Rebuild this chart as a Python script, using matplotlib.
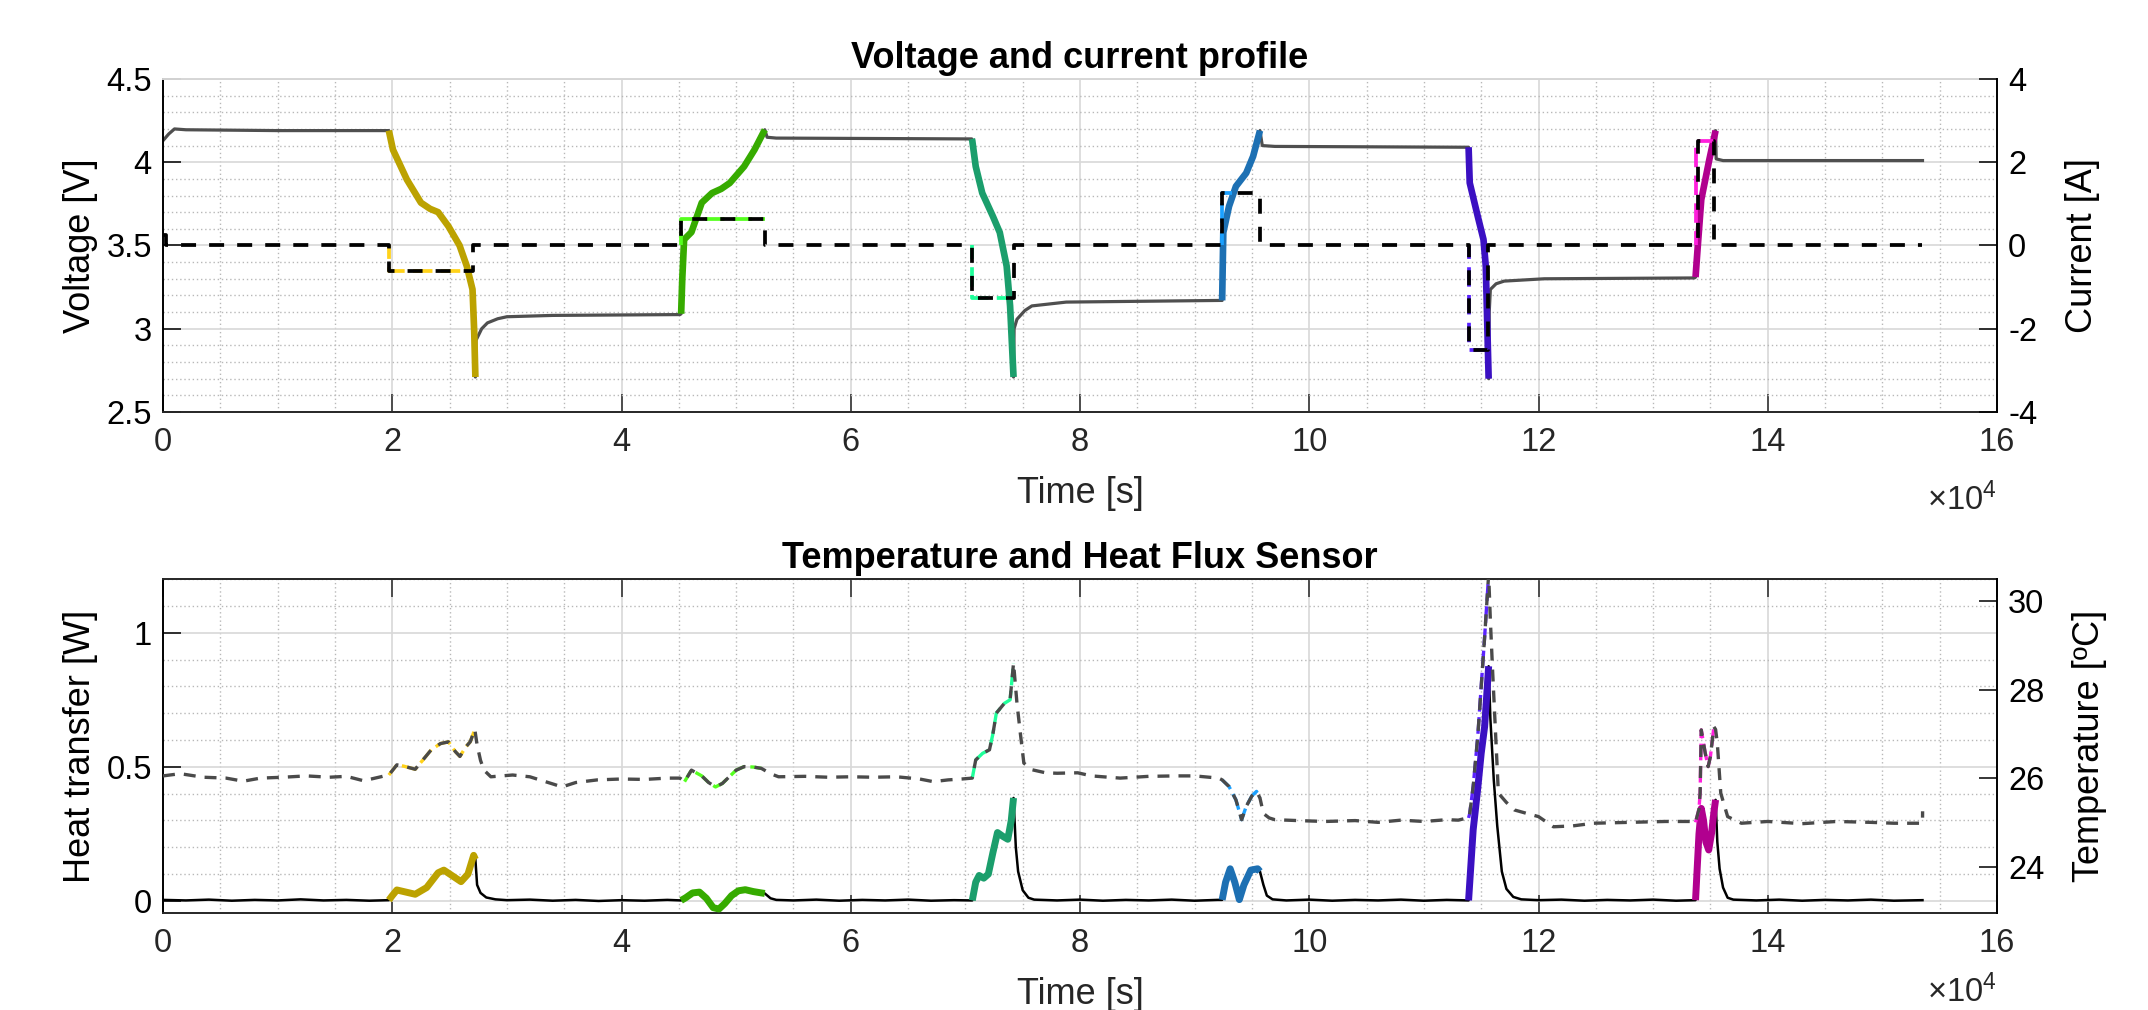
import matplotlib
matplotlib.use('Agg')
import matplotlib.pyplot as plt
import numpy as np
from matplotlib.ticker import MultipleLocator, FuncFormatter

plt.rcParams['font.family'] = ['Liberation Sans', 'DejaVu Sans']
plt.rcParams['mathtext.fontset'] = 'custom'
plt.rcParams['mathtext.rm'] = 'Liberation Sans'
plt.rcParams['mathtext.default'] = 'regular'
plt.rcParams['axes.unicode_minus'] = False
plt.rcParams['lines.scale_dashes'] = False

# --- data, time in units of 1e4 s ---
# cell voltage [V]
volt_t = [0, 0.05, 0.1, 0.2, 1.0, 1.97,
          2.006, 2.128, 2.25, 2.33, 2.40, 2.49, 2.587, 2.65, 2.70, 2.715, 2.725,
          2.73, 2.78, 2.83, 2.92, 3.0, 3.4, 4.51,
          4.52, 4.53, 4.546, 4.61, 4.70, 4.79, 4.87, 4.944, 5.07, 5.16, 5.25,
          5.27, 5.35, 7.056,
          7.06, 7.09, 7.147, 7.24, 7.30, 7.36, 7.39, 7.42,
          7.425, 7.45, 7.52, 7.58, 7.88, 9.23,
          9.24, 9.25, 9.30, 9.36, 9.45, 9.51, 9.57,
          9.59, 9.7, 11.385,
          11.39, 11.40, 11.47, 11.52, 11.54, 11.565,
          11.57, 11.58, 11.63, 11.70, 12.05, 13.36,
          13.37, 13.39, 13.42, 13.49, 13.545,
          13.55, 13.61, 15.35]
volt_v = [4.13, 4.17, 4.20, 4.195, 4.19, 4.19,
          4.075, 3.895, 3.757, 3.72, 3.70, 3.615, 3.50, 3.376, 3.236, 2.98, 2.71,
          2.93, 3.0, 3.035, 3.06, 3.072, 3.08, 3.085,
          3.09, 3.3, 3.536, 3.58, 3.757, 3.815, 3.84, 3.875, 3.975, 4.075, 4.195,
          4.15, 4.145, 4.14,
          4.13, 3.975, 3.815, 3.675, 3.578, 3.376, 3.137, 2.71,
          3.0, 3.057, 3.11, 3.137, 3.16, 3.17,
          3.17, 3.578, 3.735, 3.855, 3.935, 4.035, 4.19,
          4.10, 4.095, 4.09,
          4.09, 3.876, 3.675, 3.536, 3.376, 2.70,
          3.1, 3.236, 3.27, 3.286, 3.30, 3.305,
          3.31, 3.50, 3.775, 4.015, 4.19,
          4.02, 4.01, 4.01]

# applied current [A] (step profile)
cur_t = [0, 0.03, 1.97, 2.70, 4.52, 5.25, 7.056, 7.42, 9.24, 9.57, 11.39, 11.56, 13.39, 13.53, 15.35]
cur_a = [0.25, 0, -0.625, 0, 0.625, 0, -1.25, 0, 1.25, 0, -2.5, 0, 2.5, 0, 0]

# heat flux sensor [W]
heat_t = [0.0, 0.2, 0.4, 0.6, 0.8, 1.0, 1.2, 1.4, 1.6, 1.8, 1.95,
          1.97, 2.0, 2.04, 2.1, 2.2, 2.3, 2.4, 2.45, 2.52, 2.6, 2.66, 2.71, 2.725,
          2.74, 2.77, 2.82, 2.9, 3.0, 3.2, 3.4, 3.6, 3.8, 4.0, 4.2, 4.4, 4.51,
          4.52, 4.56, 4.62, 4.68, 4.74, 4.8, 4.85, 4.9, 4.96, 5.02, 5.08, 5.15, 5.22, 5.25,
          5.3, 5.35, 5.5, 5.7, 5.9, 6.1, 6.3, 6.5, 6.7, 6.9, 7.05,
          7.06, 7.09, 7.12, 7.16, 7.2, 7.24, 7.28, 7.33, 7.37, 7.40, 7.42,
          7.44, 7.46, 7.5, 7.55, 7.6, 7.8, 8.0, 8.2, 8.4, 8.6, 8.8, 9.0, 9.2,
          9.24, 9.27, 9.31, 9.35, 9.39, 9.43, 9.49, 9.55, 9.57,
          9.6, 9.63, 9.68, 9.8, 10.0, 10.2, 10.4, 10.6, 10.8, 11.0, 11.2, 11.38,
          11.39, 11.43, 11.47, 11.50, 11.53, 11.565,
          11.58, 11.61, 11.64, 11.68, 11.72, 11.78, 11.85, 12.0, 12.2, 12.4, 12.6, 12.8, 13.0, 13.2, 13.36,
          13.37, 13.40, 13.42, 13.44, 13.46, 13.485, 13.51, 13.53, 13.545,
          13.56, 13.58, 13.61, 13.65, 13.7, 13.9, 14.1, 14.3, 14.5, 14.7, 14.9, 15.1, 15.35]
heat_w = [0.004, 0.002, 0.005, 0.001, 0.004, 0.002, 0.006, 0.002, 0.004, 0.001, 0.003,
          0.003, 0.02, 0.041, 0.035, 0.025, 0.05, 0.105, 0.115, 0.095, 0.072, 0.10, 0.17, 0.155,
          0.06, 0.03, 0.013, 0.006, 0.003, 0.005, 0.001, 0.004, 0.000, 0.003, 0.001, 0.004, 0.002,
          0.002, 0.012, 0.03, 0.033, 0.01, -0.025, -0.03, -0.01, 0.02, 0.038, 0.042, 0.035, 0.03, 0.028,
          0.01, 0.004, 0.002, 0.005, 0.001, 0.004, 0.002, 0.005, 0.001, 0.003, 0.002,
          0.002, 0.07, 0.095, 0.085, 0.10, 0.18, 0.255, 0.24, 0.23, 0.30, 0.384,
          0.20, 0.11, 0.04, 0.012, 0.005, 0.002, 0.005, 0.001, 0.004, 0.002, 0.005, 0.001, 0.004,
          0.004, 0.07, 0.12, 0.07, 0.005, 0.06, 0.115, 0.12, 0.11,
          0.06, 0.02, 0.006, 0.002, 0.005, 0.001, 0.004, 0.002, 0.005, 0.001, 0.004, 0.002,
          0.002, 0.265, 0.42, 0.55, 0.65, 0.875,
          0.68, 0.45, 0.28, 0.11, 0.045, 0.015, 0.006, 0.003, 0.005, 0.001, 0.004, 0.002, 0.005, 0.001, 0.003,
          0.003, 0.25, 0.345, 0.30, 0.22, 0.19, 0.253, 0.33, 0.377,
          0.22, 0.12, 0.05, 0.012, 0.005, 0.002, 0.005, 0.001, 0.004, 0.002, 0.005, 0.001, 0.003]

# cell surface temperature [degC]
temp_t = [0.0, 0.15, 0.35, 0.55, 0.7, 0.85, 1.05, 1.25, 1.45, 1.6, 1.75, 1.9, 1.96,
          1.97, 2.04, 2.1, 2.2, 2.28, 2.34, 2.42, 2.49, 2.55, 2.59, 2.64, 2.68, 2.72,
          2.74, 2.77, 2.8, 2.86, 2.95, 3.05, 3.2, 3.3, 3.41, 3.48, 3.6, 3.79, 4.0, 4.2, 4.4, 4.51,
          4.55, 4.61, 4.70, 4.76, 4.82, 4.88, 4.94, 5.0, 5.07, 5.15, 5.22,
          5.3, 5.37, 5.6, 5.8, 6.0, 6.2, 6.4, 6.6, 6.72, 6.85, 6.97, 7.05,
          7.06, 7.09, 7.15, 7.21, 7.24, 7.27, 7.34, 7.39, 7.42,
          7.45, 7.48, 7.51, 7.58, 7.7, 7.8, 7.98, 8.1, 8.35, 8.6, 8.84, 9.0, 9.21,
          9.24, 9.30, 9.36, 9.41, 9.45, 9.50, 9.54, 9.57,
          9.60, 9.65, 9.70, 9.9, 10.14, 10.4, 10.6, 10.8, 11.0, 11.2, 11.3, 11.38,
          11.39, 11.40, 11.43, 11.47, 11.50, 11.53, 11.565,
          11.58, 11.60, 11.62, 11.65, 11.72, 11.79, 11.9, 12.0, 12.13, 12.3, 12.48, 12.8, 13.11, 13.36,
          13.37, 13.40, 13.41, 13.415, 13.42, 13.455, 13.48, 13.50, 13.53, 13.545,
          13.56, 13.59, 13.65, 13.77, 14.0, 14.3, 14.6, 14.9, 15.1, 15.35, 15.351]
temp_c = [26.05, 26.1, 26.02, 26.0, 25.93, 26.0, 26.02, 26.05, 26.02, 26.04, 25.94, 26.03, 26.07,
          26.07, 26.3, 26.27, 26.2, 26.45, 26.64, 26.78, 26.82, 26.6, 26.49, 26.7, 26.82, 27.1,
          26.75, 26.4, 26.18, 26.03, 26.05, 26.07, 26.03, 25.95, 25.86, 25.8, 25.9, 25.96, 25.98, 25.97, 26.0, 26.0,
          25.92, 26.18, 26.05, 25.9, 25.8, 25.88, 26.03, 26.18, 26.26, 26.25, 26.22,
          26.1, 26.03, 26.04, 26.02, 26.03, 26.02, 26.03, 25.98, 25.92, 25.96, 25.98, 26.0,
          26.0, 26.41, 26.56, 26.64, 27.0, 27.47, 27.69, 27.77, 28.6,
          27.69, 27.0, 26.34, 26.19, 26.12, 26.11, 26.12, 26.05, 26.0, 26.04, 26.05, 26.05, 26.0,
          25.96, 25.81, 25.51, 25.06, 25.36, 25.6, 25.7, 25.55,
          25.2, 25.1, 25.06, 25.04, 25.02, 25.04, 25.0, 25.05, 25.02, 25.06, 25.05, 25.1,
          25.1, 25.2, 25.81, 26.94, 28.07, 29.19, 30.6,
          29.57, 28.4, 27.31, 25.66, 25.45, 25.28, 25.2, 25.13, 24.9, 24.92, 24.98, 25.0, 25.02, 25.02,
          25.0, 25.3, 25.66, 26.41, 27.09, 26.56, 26.26, 26.49, 27.16, 27.1,
          26.79, 25.66, 25.13, 24.98, 25.02, 24.97, 25.02, 25.0, 24.98, 24.98, 25.25]

# charge / discharge steps
cycle_start = [1.97, 4.52, 7.056, 9.24, 11.39, 13.37]
cycle_end = [2.725, 5.25, 7.42, 9.57, 11.565, 13.545]
cycle_cur_end = [2.70, 5.25, 7.42, 9.33, 11.56, 13.53]
dark_colors = ['#bca200', '#36ab00', '#1b9e6c', '#1d70b3', '#3b10c2', '#b1008f']
light_colors = ['#ffd21a', '#55ff1f', '#1fff9a', '#1aa0ff', '#5a22ff', '#ff1fdc']

SCALE = 1e4
volt_t = np.array(volt_t) * SCALE
cur_t = np.array(cur_t) * SCALE
heat_t = np.array(heat_t) * SCALE
temp_t = np.array(temp_t) * SCALE
volt_v = np.array(volt_v)
heat_w = np.array(heat_w)
temp_c = np.array(temp_c)

TICK = 23.5
LAB = 26
GRAY_TXT = '#262626'

fig = plt.figure(figsize=(21.48, 10.10), dpi=100)
ax1 = fig.add_axes([0.0759, 0.5921, 0.8538, 0.3297])
ax2 = fig.add_axes([0.0759, 0.0960, 0.8538, 0.3307])
ax1r = ax1.twinx()
ax2r = ax2.twinx()


def style(ax, axr, top_ticks, exp_offset):
    ax.set_xlim(0, 16e4)
    ax.xaxis.set_major_locator(MultipleLocator(2e4))
    ax.xaxis.set_minor_locator(MultipleLocator(0.5e4))
    ax.xaxis.set_major_formatter(FuncFormatter(lambda v, p: f"{v / 1e4:g}"))
    ax.yaxis.set_major_formatter(FuncFormatter(lambda v, p: f"{v:g}"))
    ax.set_axisbelow(True)
    ax.grid(which='major', color='#d8d8d8', lw=1.2, ls='-')
    ax.grid(which='minor', color='#b8b8b8', lw=1.0, ls=(0, (1, 2)))
    ax.tick_params(which='major', direction='in', length=13, width=1.1,
                   labelsize=TICK, pad=8, color='black')
    ax.tick_params(which='minor', length=0)
    ax.tick_params(axis='x', colors=GRAY_TXT, top=top_ticks, bottom=True, pad=11)
    ax.tick_params(axis='y', right=False)
    axr.tick_params(axis='y', direction='in', length=13, width=1.1,
                    labelsize=TICK, pad=8, colors='black')
    axr.yaxis.set_major_formatter(FuncFormatter(lambda v, p: f"{v:g}"))
    for s in ['left', 'top', 'bottom']:
        axr.spines[s].set_visible(False)
    axr.spines['right'].set_color('black')
    axr.spines['right'].set_linewidth(1.4)
    ax.spines['right'].set_visible(False)
    ax.spines['left'].set_color('black')
    ax.spines['bottom'].set_color(GRAY_TXT)
    for s in ['left', 'bottom', 'top']:
        ax.spines[s].set_linewidth(1.4)
    if top_ticks:
        ax.spines['top'].set_color(GRAY_TXT)
    else:
        ax.spines['top'].set_color('#d6d6d6')
    ax.set_xlabel('Time [s]', fontsize=LAB, color=GRAY_TXT, labelpad=13)
    ax.annotate('×10$^{4}$', xy=(1, 0), xycoords='axes fraction',
                xytext=(0, exp_offset), textcoords='offset points',
                ha='right', va='baseline', fontsize=TICK, color=GRAY_TXT)


# ---- top: voltage and current ----
style(ax1, ax1r, top_ticks=False, exp_offset=-70.5)
ax1.plot(volt_t, volt_v, color='#4f4f4f', lw=2.3, zorder=2)
for s, e, c in zip(cycle_start, cycle_end, dark_colors):
    m = (volt_t >= s * SCALE) & (volt_t <= e * SCALE)
    ax1.plot(volt_t[m], volt_v[m], color=c, lw=4.8, zorder=3, solid_capstyle='butt')
ax1.set_ylim(2.5, 4.5)
ax1.yaxis.set_major_locator(MultipleLocator(0.5))
ax1.yaxis.set_minor_locator(MultipleLocator(0.1))
ax1.set_ylabel('Voltage [V]', fontsize=LAB, color='black', labelpad=6)
ax1.set_title('Voltage and current profile', fontsize=LAB, fontweight='bold', pad=8)

for s, e, lvl, c in zip(cycle_start, cycle_cur_end, cur_a[2:13:2], light_colors):
    ax1r.plot([s * SCALE, s * SCALE, e * SCALE], [0, lvl, lvl], color=c, lw=2.7,
              ls=(4, (14, 6)), zorder=2)
ax1r.step(cur_t, cur_a, where='post', color='black', lw=2.7, ls=(0, (10.8, 9.4)), zorder=3)
ax1r.set_ylim(-4, 4)
ax1r.yaxis.set_major_locator(MultipleLocator(2))
ax1r.set_ylabel('Current [A]', fontsize=LAB, color='black', labelpad=20)

# ---- bottom: heat flux and temperature ----
style(ax2, ax2r, top_ticks=True, exp_offset=-64)
ax2.plot(heat_t, heat_w, color='black', lw=1.8, zorder=2)
for s, e, c in zip(cycle_start, cycle_end, dark_colors):
    m = (heat_t >= s * SCALE) & (heat_t <= e * SCALE)
    ax2.plot(heat_t[m], heat_w[m], color=c, lw=5.0, zorder=3, solid_capstyle='butt')
ax2.set_ylim(-0.045, 1.2)
ax2.yaxis.set_major_locator(MultipleLocator(0.5))
ax2.yaxis.set_minor_locator(MultipleLocator(0.1))
ax2.set_ylabel('Heat transfer [W]', fontsize=LAB, color='black', labelpad=6)
ax2.set_title('Temperature and Heat Flux Sensor', fontsize=LAB, fontweight='bold', pad=8)

for s, e, c in zip(cycle_start, cycle_end, light_colors):
    m = (temp_t >= s * SCALE) & (temp_t <= e * SCALE)
    ax2r.plot(temp_t[m], temp_c[m], color=c, lw=2.4, ls=(3, (12, 4)), zorder=2)
ax2r.plot(temp_t, temp_c, color='#4a4a4a', lw=2.4, ls=(0, (8.6, 6.5)), zorder=3)
ax2r.set_ylim(22.95, 30.5)
ax2r.set_yticks([24, 26, 28, 30])
ax2r.set_ylabel('Temperature [ºC]', fontsize=LAB, color='black', labelpad=20)

fig.savefig('out.png', dpi=100)
plt.close(fig)
